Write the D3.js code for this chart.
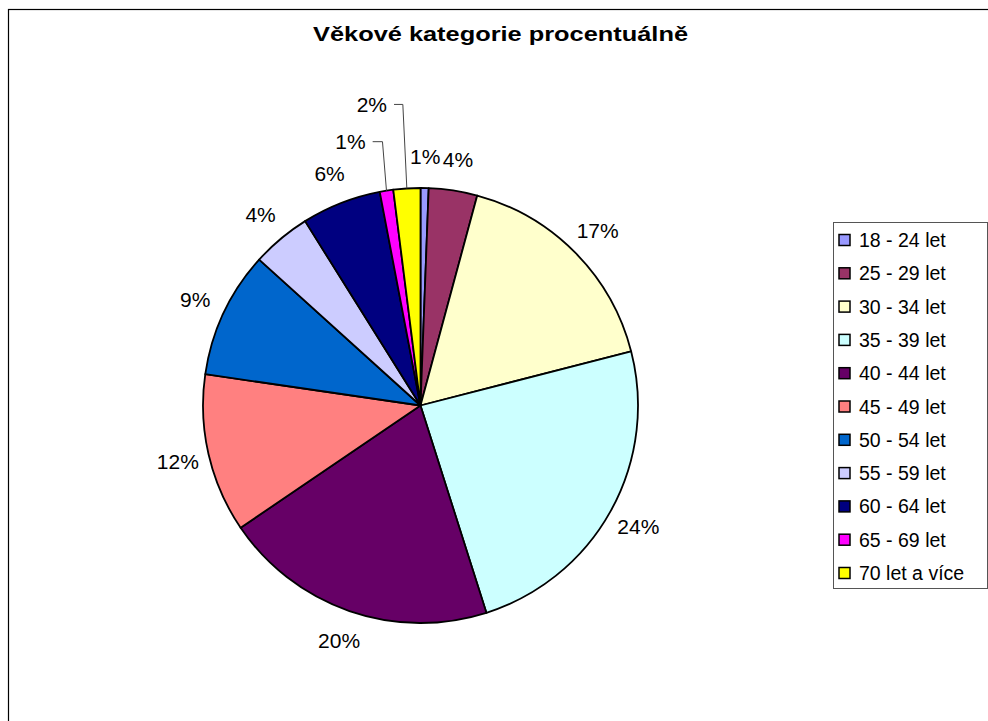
<!DOCTYPE html>
<html>
<head>
<meta charset="utf-8">
<script src="https://cdn.jsdelivr.net/npm/d3@7"></script>
<style>
  body { margin: 0; background: #fff; }
  text { font-family: Arial, "Liberation Sans", sans-serif; }
</style>
</head>
<body>
<svg id="chart"></svg>
<script>
// data (percent of respondents)
const categories = ["18 - 24 let", "25 - 29 let", "30 - 34 let", "35 - 39 let", "40 - 44 let",
  "45 - 49 let", "50 - 54 let", "55 - 59 let", "60 - 64 let", "65 - 69 let", "70 let a více"];
const shares = [0.6, 3.6, 16.8, 24.1, 20.4, 11.8, 9.4, 4.4, 5.9, 1.0, 2.0];
const sliceColors = ["#9999FF", "#993366", "#FFFFCC", "#CCFFFF", "#660066",
  "#FF8080", "#0066CC", "#CCCCFF", "#000080", "#FF00FF", "#FFFF00"];
const title = "Věkové kategorie procentuálně";

const W = 988, H = 721;
const cx = 420.5, cy = 405.5, r = 217.5;
const labelR = r + 31.5;
// labels that were dragged out with leader lines (shift from arc edge)
const callout = { 9: [-36, -49], 10: [-35, -84] };

const svg = d3.select("#chart").attr("width", W).attr("height", H);

svg.append("rect").attr("width", W).attr("height", H).attr("fill", "#fff");

// chart area border (runs off the right and bottom)
svg.append("rect")
  .attr("x", 8.5).attr("y", 9.5)
  .attr("width", 1000).attr("height", 800)
  .attr("fill", "none").attr("stroke", "#000").attr("stroke-width", 1.2);

svg.append("text")
  .attr("x", 500.5).attr("y", 41)
  .attr("text-anchor", "middle")
  .attr("textLength", 375).attr("lengthAdjust", "spacingAndGlyphs")
  .style("font-size", "20px").style("font-weight", "bold")
  .text(title);

const color = d3.scaleOrdinal().domain(categories).range(sliceColors);
const total = d3.sum(shares);
const fmt = d3.format(".0%");

const pie = d3.pie().sort(null).value(d => d.v);
const arcs = pie(categories.map((c, i) => ({ c, v: shares[i], i })));
const arc = d3.arc().innerRadius(0).outerRadius(r);

const g = svg.append("g").attr("transform", `translate(${cx},${cy})`);

g.selectAll(".slice").data(arcs).enter()
  .append("path")
  .attr("class", "slice")
  .attr("d", arc)
  .attr("fill", d => color(d.data.c))
  .attr("stroke", "#000")
  .attr("stroke-width", 1.8)
  .attr("stroke-linejoin", "round");

// data labels
const mid = d => (d.startAngle + d.endAngle) / 2;
const lab = g.selectAll(".lab").data(arcs).enter().append("g").attr("class", "lab");

lab.each(function(d) {
  const a = mid(d);
  const sx = Math.sin(a), sy = -Math.cos(a);
  const sel = d3.select(this);
  let lx = sx * labelR, ly = sy * labelR;
  const txt = sel.append("text")
    .attr("text-anchor", "middle")
    .attr("dominant-baseline", "central")
    .style("font-size", "21px")
    .text(fmt(d.data.v / total));
  if (callout[d.data.i]) {
    const ex = sx * r, ey = sy * r;
    lx = ex + callout[d.data.i][0];
    ly = ey + callout[d.data.i][1];
    const tw = txt.node().getComputedTextLength();
    sel.append("path")
      .attr("d", `M${lx + tw / 2 + 7},${ly}H${ex - 4}L${ex},${ey}`)
      .attr("fill", "none").attr("stroke", "#444").attr("stroke-width", 1);
  }
  txt.attr("x", lx).attr("y", ly);
});

// legend
const legend = svg.append("g").attr("class", "legend");
legend.append("rect")
  .attr("x", 833.5).attr("y", 222.5)
  .attr("width", 154).attr("height", 366)
  .attr("fill", "#fff").attr("stroke", "#555").attr("stroke-width", 1);

const ly = d3.scalePoint().domain(categories).range([240, 573]);
const item = legend.selectAll(".legend-item").data(categories).enter()
  .append("g").attr("class", "legend-item")
  .attr("transform", d => `translate(0,${ly(d)})`);

item.append("rect")
  .attr("x", 839).attr("y", -5.5)
  .attr("width", 11).attr("height", 11)
  .attr("fill", d => color(d))
  .attr("stroke", "#000").attr("stroke-width", 1.5);

item.append("text")
  .attr("x", 859).attr("y", 0)
  .attr("dominant-baseline", "central")
  .style("font-size", "19.5px")
  .text(d => d);
</script>
</body>
</html>
